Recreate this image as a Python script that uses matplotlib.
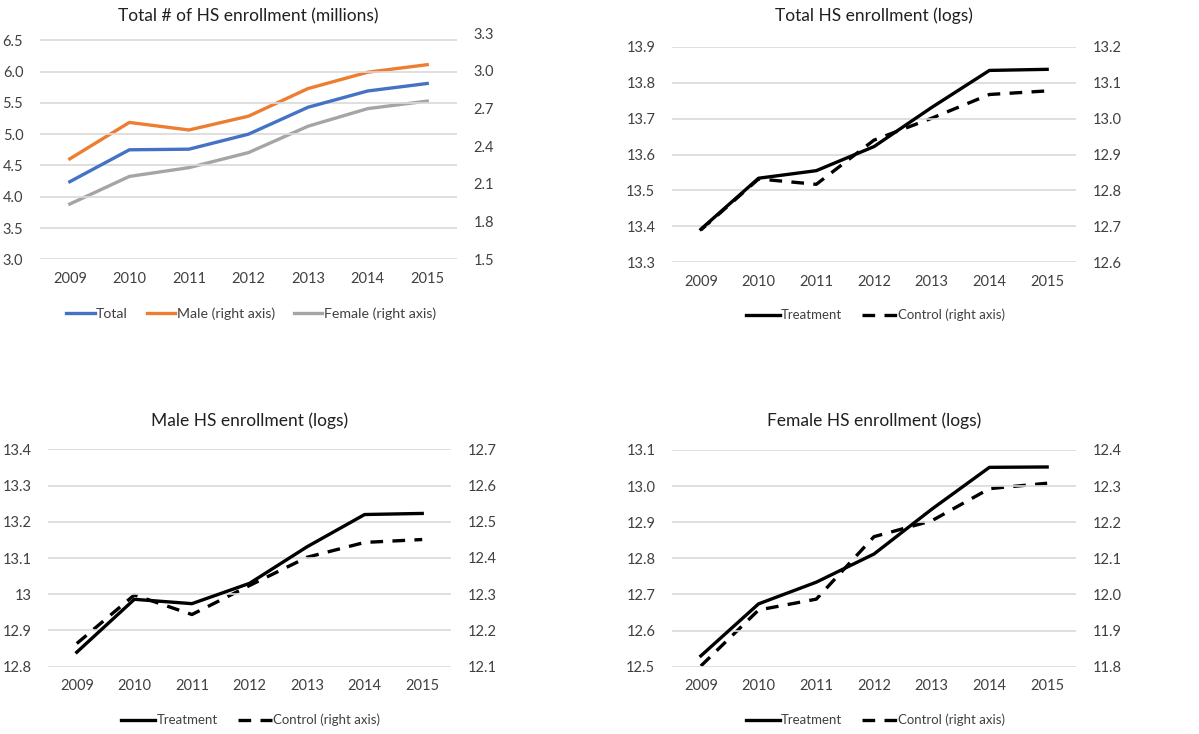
import matplotlib.pyplot as plt
import numpy as np

plt.rcParams['font.family'] = ['Lato', 'DejaVu Sans']

years = ['2009', '2010', '2011', '2012', '2013', '2014', '2015']

# panel 1 (millions)
total = [4.24, 4.75, 4.76, 5.00, 5.43, 5.69, 5.81]
male = [2.30, 2.59, 2.53, 2.64, 2.86, 2.99, 3.05]
female = [1.94, 2.16, 2.23, 2.35, 2.56, 2.70, 2.76]

# panel 2 (logs)
tot_treat = [13.392, 13.534, 13.555, 13.622, 13.731, 13.834, 13.837]
tot_ctrl = [12.690, 12.832, 12.817, 12.940, 13.001, 13.067, 13.077]

# panel 3
male_treat = [12.840, 12.986, 12.974, 13.030, 13.131, 13.220, 13.223]
male_ctrl = [12.164, 12.298, 12.244, 12.324, 12.402, 12.443, 12.451]

# panel 4
fem_treat = [12.530, 12.674, 12.734, 12.812, 12.936, 13.052, 13.053]
fem_ctrl = [11.802, 11.957, 11.987, 12.160, 12.204, 12.293, 12.308]

W, H = 1199, 734
fig = plt.figure(figsize=(W / 100, H / 100), dpi=100)
x = np.arange(len(years))
GRID = '#D9D9D9'
TXT = '#404040'


def make_axes(l, r, t, b):
    ax = fig.add_axes([l / W, 1 - b / H, (r - l) / W, (b - t) / H])
    ax2 = ax.twinx()
    for a in (ax, ax2):
        for s in a.spines.values():
            s.set_visible(False)
        a.tick_params(length=0, labelsize=10.5, colors=TXT)
        a.set_xlim(-0.5, len(years) - 0.5)
    ax.set_xticks(x)
    ax.set_xticklabels(years)
    ax.tick_params(axis='x', pad=9)
    ax.tick_params(axis='y', pad=12)
    ax2.tick_params(axis='y', pad=12)
    ax.grid(axis='y', color=GRID, linewidth=1.2)
    ax.set_axisbelow(True)
    ax.set_zorder(ax2.get_zorder() + 1)
    ax.patch.set_visible(False)
    return ax, ax2


def left_ticks(ax, lo, hi, step, fmt):
    t = np.round(np.arange(lo, hi + step / 2, step), 3)
    ax.set_yticks(t)
    ax.set_yticklabels([fmt(v) for v in t])


# ---- panel 1
ax, ax2 = make_axes(40, 457, 33.3, 259.3)
ax.set_ylim(3.0, 6.612)
left_ticks(ax, 3.0, 6.5, 0.5, lambda v: '%.1f' % v)
ax2.set_ylim(1.5, 3.3)
left_ticks(ax2, 1.5, 3.3, 0.3, lambda v: '%.1f' % v)
l1, = ax.plot(x, total, color='#4472C4', lw=2.4, label='Total')
l2, = ax2.plot(x, male, color='#ED7D31', lw=2.4, label='Male (right axis)')
l3, = ax2.plot(x, female, color='#A5A5A5', lw=2.4, label='Female (right axis)')
fig.text(248 / W, 1 - 16 / H, 'Total # of HS enrollment (millions)', ha='center', va='center',
         fontsize=12.5, color='#202020')
fig.legend(handles=[l1, l2, l3], loc='center', bbox_to_anchor=(251 / W, 1 - 314 / H), ncol=3,
           frameon=False, fontsize=10.2, handlelength=2.0, handletextpad=0.1, columnspacing=1.35,
           labelcolor=TXT)


def logs_panel(l, r, t, b, treat, ctrl, llo, rlo, title, title_y, leg_y, fmt):
    ax, ax2 = make_axes(l, r, t, b)
    ax.set_ylim(llo, llo + 0.6)
    left_ticks(ax, llo, llo + 0.6, 0.1, fmt)
    ax2.set_ylim(rlo, rlo + 0.6)
    left_ticks(ax2, rlo, rlo + 0.6, 0.1, lambda v: '%.1f' % v)
    h1, = ax.plot(x, treat, color='black', lw=2.4, label='Treatment')
    h2, = ax2.plot(x, ctrl, color='black', lw=2.4, dashes=(3.8, 2.8), label='Control (right axis)')
    fig.text((l + r) / 2 / W, 1 - title_y / H, title, ha='center', va='center',
             fontsize=12.5, color='#202020')
    fig.legend(handles=[h1, h2], loc='center', bbox_to_anchor=((l + r) / 2 / W + 0.001, 1 - leg_y / H),
               ncol=2, frameon=False, fontsize=9.5, handlelength=2.6, handletextpad=0.1,
               columnspacing=1.5, labelcolor=TXT)


def fmt_general(v):
    s = '%.1f' % v
    return s[:-2] if s.endswith('.0') else s


logs_panel(672, 1076, 46.7, 262.3, tot_treat, tot_ctrl, 13.3, 12.6,
           'Total HS enrollment (logs)', 16, 315, lambda v: '%.1f' % v)
logs_panel(48, 451, 449.3, 666.7, male_treat, male_ctrl, 12.8, 12.1,
           'Male HS enrollment (logs)', 421, 720, fmt_general)
logs_panel(672, 1076, 450, 666.7, fem_treat, fem_ctrl, 12.5, 11.8,
           'Female HS enrollment (logs)', 421, 720, lambda v: '%.1f' % v)

fig.savefig('out.png', dpi=100)
